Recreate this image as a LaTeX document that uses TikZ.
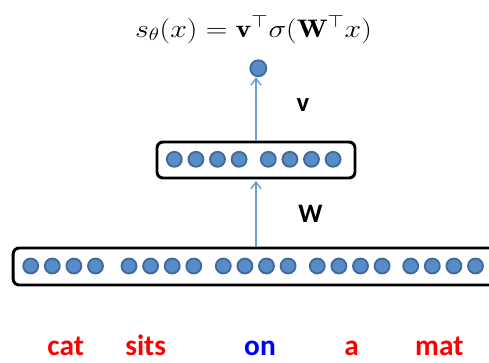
\RequirePackage{fix-cm}
\documentclass[tikz,border=0pt]{standalone}
\usepackage{fontspec}
\setsansfont{Carlito}
\usepackage{amsmath,amssymb}
\definecolor{nnfill}{RGB}{88,140,198}
\definecolor{nnedge}{RGB}{64,106,156}
\definecolor{nnarrow}{RGB}{112,158,212}
\definecolor{wordred}{RGB}{255,0,0}
\definecolor{wordblue}{RGB}{0,0,255}
\usetikzlibrary{arrows.meta}

\begin{document}
\begin{tikzpicture}[x=0.75pt,y=-0.75pt,
  layer/.style={draw=black,line width=2.2pt,rounded corners=4.5pt,inner sep=0pt},
  unit/.style={fill=nnfill,draw=nnedge,line width=1.4pt},
  link/.style={nnarrow,line width=0.8pt,-{Straight Barb[length=5pt,width=7.5pt,line width=1.1pt]}},
  lbl/.style={font=\sffamily\bfseries\fontsize{20}{24}\selectfont},
  word/.style={font=\sffamily\bfseries\fontsize{22}{26}\selectfont,anchor=base}]
  \useasboundingbox (0,0) rectangle (489,362);
  \clip (0,0) rectangle (489,362);
  % Score
  \node[anchor=base,font=\fontsize{19}{23}\selectfont] (score) at (253.5,37)
    {\scalebox{1.18}[1]{$s_\theta(x)=\mathbf{v}^\top\sigma(\mathbf{W}^\top x)$}};
  \node[circle,unit,minimum size=12pt,inner sep=0pt] (out) at (258.3,68.3) {};
  % Layers
  \node[layer,minimum width=148.5pt,minimum height=27pt] (hidden) at (256,160) {};
  \node[layer,minimum width=365pt,minimum height=27.75pt] (input) at (256.5,266.5) {};
  % Hidden units
  \foreach \g in {174.3,268.3}{
    \foreach \k in {0,...,3}
      \draw[unit] ({\g+21.6*\k},159.3) circle[radius=5.6pt];
  }
  % Input units
  \foreach \g in {30.7,129,223.3,317.3,410.7}{
    \foreach \k in {0,...,3}
      \draw[unit] ({\g+21.6*\k},266) circle[radius=5.6pt];
  }
  % Connections
  \draw[link] (hidden.south |- input.north) -- ([yshift=-1pt]hidden.south);
  \draw[link] (hidden.north) -- (hidden.north |- out.south);
  \node[lbl] (vlab) at (303,105) {v};
  \node[lbl] (wlab) at (310.5,214) {W};
  % Words
  \foreach \x/\w/\c in {65.7/cat/wordred,145.7/sits/wordred,260/on/wordblue,351.7/a/wordred,439.3/mat/wordred}
    \node[word,text=\c] (w-\w) at (\x,355) {\w};
\end{tikzpicture}
\end{document}
